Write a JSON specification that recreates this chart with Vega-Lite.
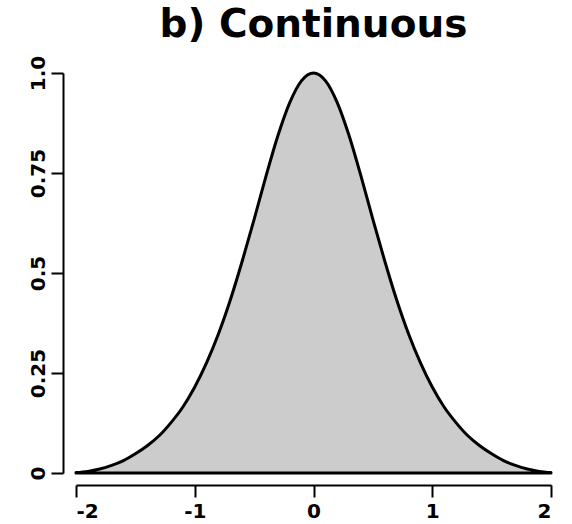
{
  "$schema": "https://vega.github.io/schema/vega-lite/v6.json",
  "autosize": {"type": "none"},
  "padding": {"left": 76, "top": 73, "right": 21, "bottom": 51},
  "width": 475,
  "height": 400,
  "background": "white",
  "title": {
    "text": "b) Continuous",
    "font": "DejaVu Sans",
    "fontSize": 39,
    "fontWeight": "bold",
    "color": "black",
    "anchor": "middle",
    "frame": "group",
    "offset": 10
  },
  "config": {
    "view": {"stroke": null},
    "axis": {
      "grid": false,
      "domainColor": "black",
      "domainWidth": 2,
      "tickColor": "black",
      "tickWidth": 2,
      "tickSize": 12,
      "labelFont": "DejaVu Sans",
      "labelFontWeight": "bold",
      "labelFontSize": 20,
      "labelColor": "black",
      "title": null
    }
  },
  "data": {
    "values": [
      {"x": -2.0, "y": 0.001},
      {"x": -1.9, "y": 0.004},
      {"x": -1.8, "y": 0.010},
      {"x": -1.7, "y": 0.019},
      {"x": -1.6, "y": 0.031},
      {"x": -1.5, "y": 0.048},
      {"x": -1.4, "y": 0.068},
      {"x": -1.3, "y": 0.093},
      {"x": -1.2, "y": 0.126},
      {"x": -1.1, "y": 0.165},
      {"x": -1.0, "y": 0.215},
      {"x": -0.9, "y": 0.276},
      {"x": -0.8, "y": 0.348},
      {"x": -0.7, "y": 0.433},
      {"x": -0.6, "y": 0.530},
      {"x": -0.5, "y": 0.634},
      {"x": -0.4, "y": 0.742},
      {"x": -0.3, "y": 0.843},
      {"x": -0.2, "y": 0.926},
      {"x": -0.1, "y": 0.981},
      {"x": 0.0, "y": 1.0},
      {"x": 0.1, "y": 0.981},
      {"x": 0.2, "y": 0.926},
      {"x": 0.3, "y": 0.843},
      {"x": 0.4, "y": 0.742},
      {"x": 0.5, "y": 0.634},
      {"x": 0.6, "y": 0.530},
      {"x": 0.7, "y": 0.433},
      {"x": 0.8, "y": 0.348},
      {"x": 0.9, "y": 0.276},
      {"x": 1.0, "y": 0.215},
      {"x": 1.1, "y": 0.165},
      {"x": 1.2, "y": 0.126},
      {"x": 1.3, "y": 0.093},
      {"x": 1.4, "y": 0.068},
      {"x": 1.5, "y": 0.048},
      {"x": 1.6, "y": 0.031},
      {"x": 1.7, "y": 0.019},
      {"x": 1.8, "y": 0.010},
      {"x": 1.9, "y": 0.004},
      {"x": 2.0, "y": 0.001}
    ]
  },
  "mark": {
    "type": "area",
    "interpolate": "monotone",
    "fill": "#cccccc",
    "stroke": "black",
    "strokeWidth": 3,
    "strokeJoin": "round"
  },
  "encoding": {
    "x": {
      "field": "x",
      "type": "quantitative",
      "scale": {"domain": [-2, 2], "nice": false, "zero": false},
      "axis": {
        "values": [-2, -1, 0, 1, 2],
        "offset": 12,
        "labelPadding": 4,
        "labelExpr": "datum.value < 0 ? '-' + toString(-datum.value) : toString(datum.value)"
      }
    },
    "y": {
      "field": "y",
      "type": "quantitative",
      "scale": {"domain": [0, 1], "nice": false},
      "axis": {
        "values": [0, 0.25, 0.5, 0.75, 1],
        "offset": 13,
        "labelAngle": 270,
        "labelAlign": "center",
        "labelBaseline": "bottom",
        "labelPadding": 3,
        "labelExpr": "datum.value == 1 ? '1.0' : toString(datum.value)"
      }
    }
  }
}
